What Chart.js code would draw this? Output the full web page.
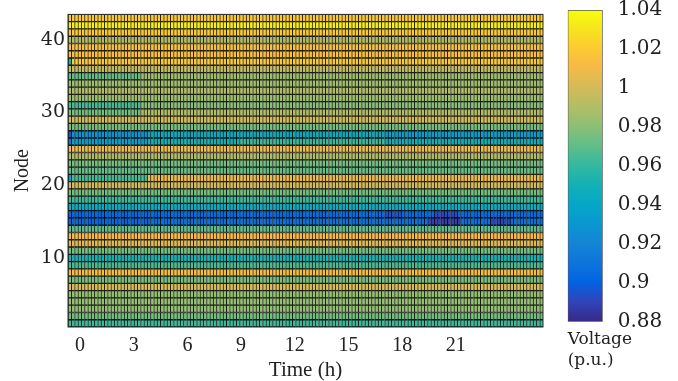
<!DOCTYPE html>
<html>
<head>
<meta charset="utf-8">
<script src="https://cdn.jsdelivr.net/npm/chart.js@4.4.1/dist/chart.umd.min.js"></script>
<style>
html,body{margin:0;padding:0;background:#fff;}
#wrap{position:relative;width:678px;height:381px;overflow:hidden;}
#heat{position:absolute;left:0;top:0;width:548px;height:381px;}
#bar{position:absolute;left:531px;top:0;width:147px;height:381px;}
</style>
</head>
<body>
<div id="wrap">
  <div id="heat"><canvas id="heatCanvas"></canvas></div>
  <div id="bar"><canvas id="barCanvas"></canvas></div>
</div>
<script>
// ================= DATA =================
const nodes = [1,2,3,4,5,6,7,8,9,10,11,12,13,14,15,16,17,18,19,20,21,22,23,24,25,26,27,28,29,30,31,32,33,34,35,36,37,38,39,40,41,42,43];

// voltage (p.u.) of every node for most of the day, node 1 first
const baseVoltage = [
  0.962, 0.975, 0.982, 0.983, 0.982, 1.002, 0.976, 1.013, 0.965, 0.952,
  0.975, 1.005, 1.012, 0.970, 0.908, 0.905, 0.945, 0.963, 0.975, 1.000,
  1.008, 0.972, 0.975, 0.990, 1.010, 0.962, 0.945, 0.975, 1.000, 0.990,
  0.980, 0.985, 0.990, 0.985, 0.985, 0.995, 1.020, 1.015, 1.015, 0.990,
  1.020, 1.035, 1.020
];

// [node, from hour, to hour, voltage] where a node differs from its usual value
const voltageChanges = [
  [21, -1, 3.8, 0.965],
  [21, -1, -0.45, 0.935],
  [26, -1, 3.8, 0.935],
  [26, 3.8, 9, 0.950],
  [26, 17, 26, 0.948],
  [26, -1, -0.45, 0.912],
  [27, -1, 3.8, 0.928],
  [27, 17, 26, 0.935],
  [27, -1, -0.45, 0.895],
  [30, -1, 3.4, 0.975],
  [31, -1, 3.4, 0.965],
  [35, -1, 3.4, 0.972],
  [37, -1, -0.45, 0.950],
  [15, -1, 4, 0.903],
  [16, -1, 4, 0.903],
  [16, 17.0, 18.0, 0.895],
  [15, 19.5, 21.3, 0.888],
  [16, 19.8, 21.0, 0.893],
  [15, 23.0, 24.0, 0.892]
];

const hourTicks = [0, 3, 6, 9, 12, 15, 18, 21];
const nodeTicks = [10, 20, 30, 40];
const colorbarTicks = [0.88, 0.9, 0.92, 0.94, 0.96, 0.98, 1, 1.02, 1.04];
const timeRange = [-0.67, 25.87];
const columnCount = 144; // 10 min steps

// ================= COLORMAP (parula) =================
const parulaStops = [
  [0.2081,0.1663,0.5292],[0.1959,0.2645,0.7279],[0.0117,0.3875,0.8820],
  [0.0498,0.4586,0.8641],[0.0793,0.5200,0.8312],[0.0343,0.5966,0.8199],
  [0.0228,0.6535,0.7768],[0.0843,0.6928,0.7062],[0.2178,0.7250,0.6193],
  [0.3953,0.7459,0.5244],[0.5709,0.7485,0.4494],[0.7184,0.7411,0.3905],
  [0.8507,0.7299,0.3360],[0.9739,0.7314,0.2666],[0.9880,0.8066,0.1794],
  [0.9598,0.9218,0.0948],[0.9763,0.9831,0.0538]
];
const stopPos = [0,4,8,12,16,20,24,28,32,36,40,44,48,52,56,60,63].map(i => i / 63);

function parulaRGB(t){
  t = Math.max(0, Math.min(1, t));
  let i = 0;
  while(i < stopPos.length - 2 && t > stopPos[i+1]) i++;
  const f = (t - stopPos[i]) / (stopPos[i+1] - stopPos[i]);
  return parulaStops[i].map((c, k) => c + (parulaStops[i+1][k] - c) * f);
}
function rgbStr(rgb, k){
  k = k || 1;
  return 'rgb(' + rgb.map(c => Math.round(c * 255 * k)).join(',') + ')';
}
const vMin = colorbarTicks[0], vMax = colorbarTicks[colorbarTicks.length - 1];

// ================= HEATMAP =================
const colW = (timeRange[1] - timeRange[0]) / columnCount;
const columns = [];
for(let i = 0; i < columnCount; i++){
  const s = timeRange[0] + i * colW;
  columns.push({start: s, end: s + colW, mid: s + colW / 2});
}

function voltageAt(node, t){
  let v = baseVoltage[node - 1];
  voltageChanges.forEach(([n, from, to, val]) => {
    if(n === node && t >= from && t < to) v = val;
  });
  return v;
}

const datasets = nodes.map(n => {
  const vals = columns.map(c => voltageAt(n, c.mid));
  const rgbs = vals.map(v => parulaRGB((v - vMin) / (vMax - vMin)));
  return {
    label: 'Node ' + n,
    data: columns.map(c => ({x: [c.start, c.end], y: n})),
    backgroundColor: rgbs.map(c => rgbStr(c)),
    borderColor: rgbs.map(c => rgbStr(c, 0.15)),
    borderWidth: {top: 1, bottom: 1, left: 1, right: 0},
    borderSkipped: false,
    barPercentage: 1,
    categoryPercentage: 1,
    grouped: false
  };
});

const framePlugin = {
  id: 'frame',
  afterDatasetsDraw(chart){
    const {ctx, chartArea: a} = chart;
    ctx.save();
    ctx.strokeStyle = '#2a2a2a';
    ctx.lineWidth = 1;
    ctx.strokeRect(a.left, a.top, a.right - a.left, a.bottom - a.top);
    ctx.restore();
  }
};

new Chart(document.getElementById('heatCanvas'), {
  type: 'bar',
  data: {datasets: datasets},
  plugins: [framePlugin],
  options: {
    indexAxis: 'y',
    animation: false,
    responsive: true,
    maintainAspectRatio: false,
    layout: {padding: {left: 0, top: 9, right: 5, bottom: 0}},
    plugins: {legend: {display: false}, tooltip: {enabled: false}},
    scales: {
      x: {
        type: 'linear',
        min: timeRange[0],
        max: timeRange[1],
        afterFit(s){ s.height = 54; },
        afterBuildTicks(s){ s.ticks = hourTicks.map(v => ({value: v})); },
        grid: {display: false, drawTicks: false},
        border: {display: false},
        ticks: {padding: 7, color: '#222', font: {family: 'Liberation Serif', size: 20}, maxRotation: 0},
        title: {display: true, text: 'Time (h)', color: '#222', padding: {top: 0, bottom: 0},
                font: {family: 'Liberation Serif', size: 21, lineHeight: 1}}
      },
      y: {
        type: 'linear',
        offset: false,
        min: 0.5,
        max: nodes.length + 0.5,
        afterFit(s){ s.width = 68; },
        afterBuildTicks(s){ s.ticks = nodeTicks.map(v => ({value: v})); },
        grid: {display: false, drawTicks: false, offset: false},
        border: {display: false},
        ticks: {padding: 3, color: '#222', font: {family: 'DejaVu Serif', size: 19}},
        title: {display: true, text: 'Node', color: '#222', padding: {top: 13, bottom: 0},
                font: {family: 'Liberation Serif', size: 20, lineHeight: 1}}
      }
    }
  }
});

// ================= COLORBAR =================
new Chart(document.getElementById('barCanvas'), {
  type: 'bar',
  data: {
    labels: [''],
    datasets: [{
      data: [[vMin, vMax]],
      backgroundColor(context){
        const chart = context.chart;
        if(!chart.chartArea) return null;
        const y = chart.scales.y;
        const g = chart.ctx.createLinearGradient(0, y.getPixelForValue(vMin), 0, y.getPixelForValue(vMax));
        parulaStops.forEach((c, i) => g.addColorStop(stopPos[i], rgbStr(c)));
        return g;
      },
      borderColor: '#555',
      borderWidth: 1,
      borderSkipped: false,
      barPercentage: 1,
      categoryPercentage: 1
    }]
  },
  options: {
    animation: false,
    responsive: true,
    maintainAspectRatio: false,
    layout: {padding: {left: 36.7, top: 10, right: 0, bottom: 4.5}},
    plugins: {
      legend: {display: false},
      tooltip: {enabled: false},
      title: {
        display: true, position: 'bottom', align: 'start', text: ['Voltage', '(p.u.)'], color: '#222',
        font: {family: 'DejaVu Serif', size: 17, weight: 'normal', lineHeight: 1.2},
        padding: {top: 8, bottom: 6}
      }
    },
    scales: {
      x: {display: false},
      y: {
        position: 'right',
        min: vMin,
        max: vMax,
        afterFit(s){ s.width = 147 - 71.7; s.paddingTop = 0; s.paddingBottom = 0; },
        afterBuildTicks(s){ s.ticks = colorbarTicks.map(v => ({value: v})); },
        grid: {display: false, drawTicks: false},
        border: {display: false},
        ticks: {
          padding: 15, color: '#222', font: {family: 'DejaVu Serif', size: 20},
          callback: v => String(Number(v.toFixed(2)))
        }
      }
    }
  }
});
</script>
</body>
</html>
